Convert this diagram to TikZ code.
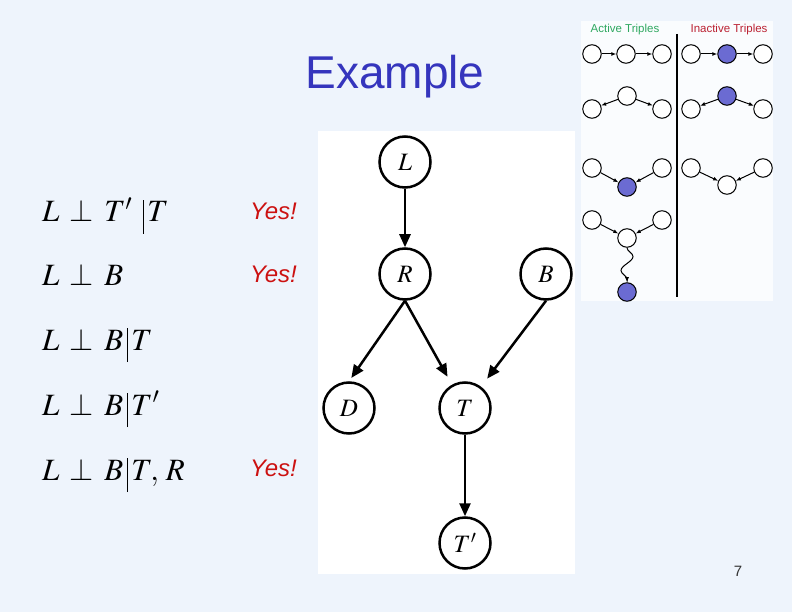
\documentclass[tikz,border=0pt]{standalone}
\usepackage{mathptmx}
\usepackage[no-math]{fontspec}
\newfontfamily\slidefont{Liberation Sans}
\usetikzlibrary{arrows.meta,decorations.pathmorphing}
\definecolor{slidebg}{HTML}{EEF4FC}
\definecolor{titleblue}{HTML}{3535BD}
\definecolor{yesred}{HTML}{CC1111}
\definecolor{activegreen}{HTML}{2FA860}
\definecolor{inactivered}{HTML}{BB2233}
\definecolor{shadeblue}{HTML}{6B6BD2}
\newcommand{\givenbar}{\,\rule[-12pt]{1.3pt}{34pt}\,}
\begin{document}
\begin{tikzpicture}
[x=1pt,y=-1pt,
  bignode/.style={shape=circle,minimum size=51pt,inner sep=0pt,draw,line width=2.5pt,fill=white,font=\fontsize{25}{25}\selectfont},%
  bigline/.style={-{Triangle[length=13pt,width=11pt]},line width=2.5pt},%
  smallnode/.style={shape=circle,minimum size=18.5pt,inner sep=0pt,draw,line width=1pt},%
  smallline/.style={-{Latex[length=5pt,width=4pt]},line width=1pt},%
  formula/.style={anchor=base west,inner sep=0pt,font=\fontsize{31}{36}\selectfont},%
  yes/.style={anchor=base west,inner sep=0pt,text=yesred,font=\slidefont\itshape\fontsize{24}{24}\selectfont}]
\useasboundingbox (0,0) rectangle (792,612);
\fill [slidebg] (0,0) rectangle (792,612);
\fill [white] (318,131) rectangle (575,574);
\fill [white!70!slidebg] (581,21) rectangle (773,301);
%% title
\node (title) at (395,77) [text=titleblue,font=\slidefont\fontsize{46}{46}\selectfont] {Example};
%% independence statements
\node (q1) at (42,222) [formula] {$L\,\perp\,T'\;\givenbar T$};
\node (q2) at (42,285) [formula] {$L\,\perp\,B$};
\node (q3) at (42,350) [formula] {$L\,\perp\,B\givenbar T$};
\node (q4) at (42,415) [formula] {$L\,\perp\,B\givenbar T'$};
\node (q5) at (42,480) [formula] {$L\,\perp\,B\givenbar T,\,R$};
\node (yes1) at (250,220) [yes] {Yes!};
\node (yes2) at (250,283) [yes] {Yes!};
\node (yes5) at (250,476) [yes] {Yes!};
%% network
\foreach \nodename/\x/\y/\lab in {
  L/405/162/L, R/405/274/R, B/546/274/B,
  D/349/408/D, T/465/408/T, Tp/465/543/T'}
{
  \node (\nodename) at (\x,\y) [bignode] {$\lab$};
}
\draw [bigline] (L) -- (R);
\draw [bigline,shorten >=4pt] (R.south) -- (D.north);
\draw [bigline,shorten >=9pt] (R.south) -- (T);
\draw [bigline,shorten >=10pt] (B.south) -- (T);
\draw [bigline] (T) -- (Tp);
%% active / inactive triples
\node (act) at (625,30) [text=activegreen,font=\slidefont\fontsize{11.5}{12}\selectfont] {Active Triples};
\node (inact) at (729,30) [text=inactivered,font=\slidefont\fontsize{11.5}{12}\selectfont] {Inactive Triples};
\draw [line width=2pt] (677,34) -- (677,297);
\foreach \nodename/\x/\y/\shade in {
  a1/592/54/white, a2/626/54/white, a3/662/54/white,
  i1/691/54/white, i2/727/54/shadeblue, i3/763/54/white,
  b1/592/109/white, b2/627/96/white, b3/662/109/white,
  j1/691/109/white, j2/727/96/shadeblue, j3/763/109/white,
  c1/592/168/white, c2/627/187/shadeblue, c3/662/168/white,
  k1/691/168/white, k2/727/185/white, k3/763/168/white,
  d1/592/220/white, d2/627/238/white, d3/662/220/white,
  d4/627/292/shadeblue}
{
  \node (\nodename) at (\x,\y) [smallnode,fill=\shade] {};
}
\draw [smallline] (a1) -- (a2);
\draw [smallline] (a2) -- (a3);
\draw [smallline] (i1) -- (i2);
\draw [smallline] (i2) -- (i3);
\draw [smallline] (b2) -- (b1);
\draw [smallline] (b2) -- (b3);
\draw [smallline] (j2) -- (j1);
\draw [smallline] (j2) -- (j3);
\draw [smallline] (c1) -- (c2);
\draw [smallline] (c3) -- (c2);
\draw [smallline] (k1) -- (k2);
\draw [smallline] (k3) -- (k2);
\draw [smallline] (d1) -- (d2);
\draw [smallline] (d3) -- (d2);
\draw [smallline,decorate,decoration={snake,amplitude=6pt,segment length=28pt,post length=3pt}] (d2) -- (d4);
%% page number
\node (page) at (738,571) [text=black!80,font=\slidefont\fontsize{15}{15}\selectfont] {7};
\end{tikzpicture}
\end{document}
